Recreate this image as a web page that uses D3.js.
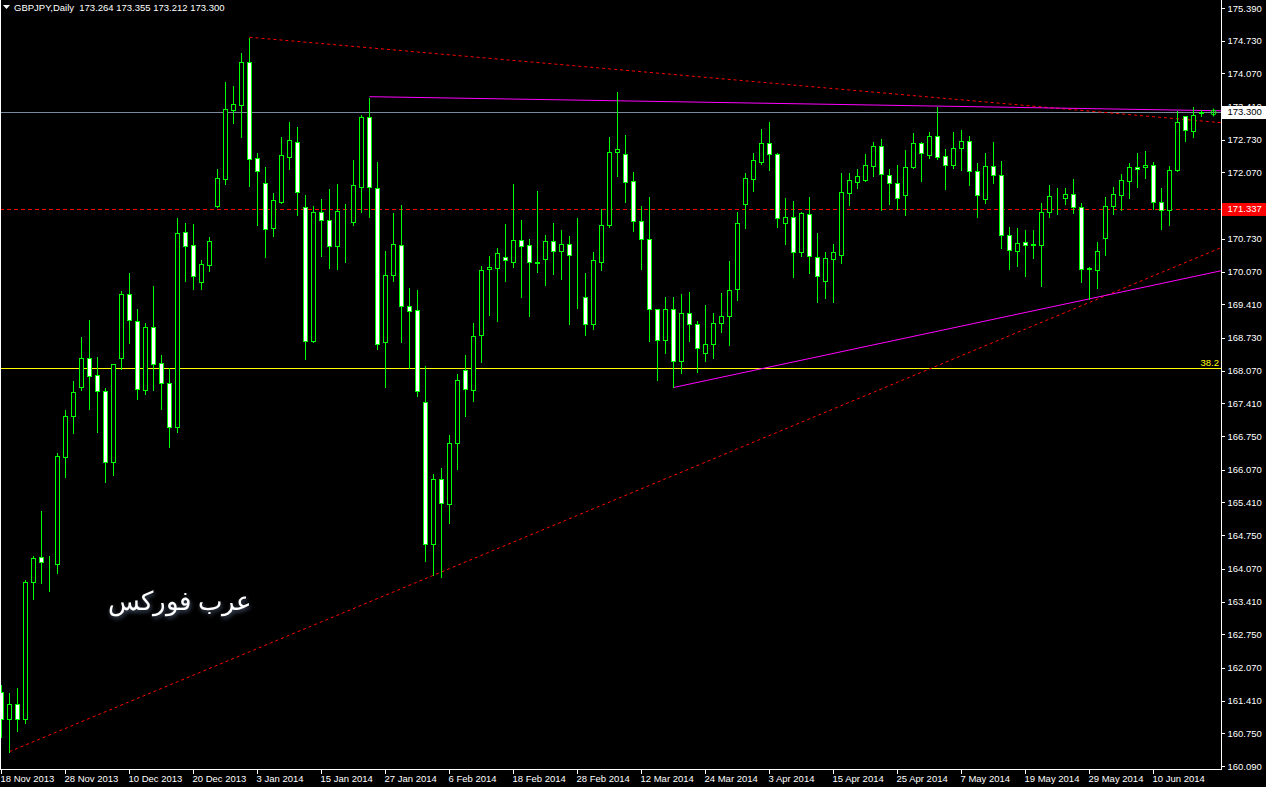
<!DOCTYPE html>
<html><head><meta charset="utf-8">
<script src="https://cdn.jsdelivr.net/npm/d3@7/dist/d3.min.js"></script>
<style>
html,body{margin:0;padding:0;background:#000;}
svg{display:block;}
text{font-family:"Liberation Sans",Arial,sans-serif;}
</style></head>
<body>
<svg id="chart" width="1266" height="787"></svg>
<script>
// ---------- DATA ----------
const symbolTitle = "GBPJPY,Daily";
const lastQuote = ["173.264","173.355","173.212","173.300"];
const firstDay = "2013-11-18";
const holidays = ["2013-12-25","2014-01-01"];
const barCount = 151;

const open = [161.58,161.03,161.35,161.03,163.80,164.30,164.20,164.17,166.33,167.16,
167.73,168.32,167.98,167.65,166.23,168.33,169.61,169.07,167.67,168.96,
168.22,167.83,166.93,170.86,170.60,169.85,170.20,171.40,171.93,173.33,
173.43,174.29,172.36,171.85,170.94,171.48,172.39,172.68,171.37,168.67,
171.27,171.12,170.59,171.08,171.08,171.78,173.18,171.75,168.65,170.01,
170.60,169.37,169.29,167.43,164.58,165.88,165.37,166.60,168.08,167.67,
168.78,170.12,170.15,170.36,170.26,170.70,170.60,170.26,170.33,170.68,
170.48,170.62,170.34,169.55,169.01,170.26,171.00,172.49,172.44,171.89,
171.10,170.72,169.31,168.68,169.31,168.26,169.23,169.01,168.42,168.60,
169.03,169.17,169.71,171.43,171.94,172.29,172.66,172.44,171.06,171.17,
170.46,171.23,170.36,169.87,170.33,170.41,171.66,171.88,171.92,172.21,
172.60,172.01,171.85,171.62,172.19,172.66,172.42,172.80,172.40,172.23,
172.56,172.70,172.09,171.54,172.21,172.01,170.80,170.49,170.66,170.61,
170.60,171.27,171.57,171.56,171.63,171.37,170.13,170.11,170.75,171.39,
171.62,171.90,172.19,172.19,172.23,171.47,171.31,172.11,173.20,172.90,
173.264];
const high = [161.74,161.58,161.68,163.86,164.35,165.26,164.35,166.42,167.29,167.88,
168.77,169.11,168.37,167.73,168.22,169.70,170.06,169.33,169.05,169.80,
168.41,168.14,171.17,171.07,171.05,170.32,170.79,172.16,173.92,173.84,
174.50,174.80,172.48,172.20,171.67,172.81,173.11,173.01,171.64,171.41,
171.55,171.76,171.86,171.45,172.34,173.26,173.60,172.30,170.51,171.27,
171.43,169.76,169.72,168.18,166.00,166.12,166.79,168.02,168.41,169.05,
170.20,170.41,170.57,171.05,171.86,171.13,170.75,171.72,170.83,171.07,
170.92,170.81,171.17,170.06,170.48,171.35,172.81,173.71,172.85,172.10,
171.41,171.60,169.33,169.58,169.58,169.64,169.68,169.09,169.42,169.25,
169.66,170.30,171.29,172.08,172.48,172.97,173.11,172.48,171.57,171.51,
171.29,171.60,170.87,170.48,170.65,172.08,172.08,172.16,172.46,172.71,
172.77,172.16,172.24,172.54,172.89,172.71,172.91,173.41,172.56,172.91,
172.95,172.83,172.28,172.48,172.71,172.32,170.99,170.97,170.93,170.93,
171.47,171.84,171.78,171.78,171.96,171.47,170.18,170.69,171.60,171.79,
172.06,172.28,172.48,172.52,172.30,171.77,172.23,173.33,173.22,173.41,
173.355];
const low = [160.68,160.38,160.80,160.96,163.47,163.79,163.63,163.99,165.93,166.82,
167.67,167.30,166.83,165.82,165.96,168.10,168.63,167.49,167.60,167.67,
167.30,166.53,166.84,169.87,169.72,169.72,170.09,171.38,171.84,173.07,
172.79,171.80,171.02,170.37,170.79,171.46,172.15,171.22,168.31,168.65,
170.39,170.15,170.13,170.27,171.02,171.28,171.18,168.50,167.73,169.87,
168.65,168.12,167.55,164.23,163.94,163.91,165.00,166.09,167.16,167.46,
168.25,169.20,169.08,169.87,170.17,169.56,169.18,170.07,169.80,170.03,
169.91,169.02,169.34,168.78,168.92,170.11,170.96,172.00,171.47,170.89,
170.13,168.67,167.89,168.43,167.73,168.03,168.67,168.05,168.27,168.33,
168.86,168.59,169.50,170.94,171.70,172.25,172.11,170.96,170.63,169.97,
170.39,170.05,169.46,169.54,169.46,170.25,171.41,171.76,171.90,171.99,
171.32,171.44,171.33,171.22,172.17,171.90,172.36,172.34,171.74,172.17,
172.11,171.82,171.18,171.46,171.86,170.55,170.13,170.19,169.99,170.35,
169.78,171.18,171.24,171.43,171.25,169.86,169.52,169.74,170.40,171.24,
171.32,171.56,171.78,171.96,171.33,170.92,171.00,172.09,172.70,172.78,
173.212];
const close = [161.03,161.35,161.03,163.81,164.28,164.20,164.21,166.34,167.15,167.63,
168.32,167.97,167.65,166.23,168.20,169.61,169.09,167.69,168.96,168.20,
167.83,166.93,170.84,170.58,169.99,170.22,170.68,171.95,173.35,173.45,
174.31,172.34,172.09,170.92,171.51,172.42,172.72,171.67,168.67,171.27,
171.12,170.59,171.29,171.07,171.81,173.18,171.77,168.60,170.01,170.62,
169.37,169.27,167.65,164.58,165.88,165.39,166.60,167.89,167.69,168.77,
170.10,170.16,170.44,170.30,170.70,170.58,170.26,170.25,170.68,170.48,
170.62,170.40,170.35,169.01,170.30,171.01,172.48,172.54,171.88,171.10,
170.73,169.31,168.68,169.31,168.26,169.23,169.01,168.52,168.60,169.03,
169.17,169.69,171.06,171.95,172.32,172.66,172.44,171.15,171.17,170.46,
171.25,170.38,169.99,170.34,170.46,171.67,171.91,171.99,172.23,172.60,
172.03,171.85,171.55,172.19,172.66,172.46,172.80,172.38,172.23,172.56,
172.70,172.09,171.61,172.21,172.01,170.80,170.50,170.64,170.61,170.62,
171.27,171.59,171.58,171.63,171.38,170.13,170.14,170.48,171.39,171.63,
171.91,172.19,172.15,172.23,171.47,171.31,172.11,173.08,172.92,173.24,
173.300];

// visible price-scale labels (171.410 is hidden behind the red box in the reference)
const priceTicks = [175.39,174.73,174.07,173.41,172.73,172.07,170.73,170.07,169.41,
168.73,168.07,167.41,166.75,166.07,165.41,164.75,164.07,163.41,162.75,162.07,161.41,160.75,160.09];

// objects on the chart: [barIndex, price] anchors
const redTrendUpper = [[31,174.80],[150,173.11]];
const redTrendLower = [[1,160.38],[54,163.94]];
const magentaUpper = [[46,173.60],[117,173.41]];
const magentaLower = [[84,167.73],[136,169.52]];
const fibLevel = 168.12, fibLabel = "38.2";
const bidPrice = 173.300, bidLabel = "173.300";
const hLinePrice = 171.337, hLineLabel = "171.337";
const watermark = "عرب فوركس";

// ---------- build categories ----------
const parse = d3.timeParse("%Y-%m-%d"), iso = d3.timeFormat("%Y-%m-%d");
const dates = [];
{ let d = parse(firstDay);
  while (dates.length < barCount) {
    const wd = d.getDay();
    if (wd !== 0 && wd !== 6 && !holidays.includes(iso(d))) dates.push(iso(d));
    d = d3.timeDay.offset(d, 1);
  }
}
const bars = dates.map((d,i)=>({date:d,o:open[i],h:high[i],l:low[i],c:close[i]}));

// ---------- scales ----------
const W = 1266, H = 787, plotR = 1221, plotB = 769;
const FS = 9.5;
const x = d3.scaleBand().domain(dates).range([-2.5, 1205.5]).padding(0);
const xc = d => x(d) + x.bandwidth()/2;
const y = d3.scaleLinear().domain([160.09, 175.39]).range([766, 8]);
const py = p => Math.round(y(p)) + 0.5;

const svg = d3.select("#chart");
svg.append("rect").attr("width",W).attr("height",H).attr("fill","#000");
const defs = svg.append("defs");
defs.append("clipPath").attr("id","plot").append("rect").attr("x",0).attr("y",0).attr("width",plotR).attr("height",plotB);
const f = defs.append("filter").attr("id","glow").attr("x","-20%").attr("y","-40%").attr("width","140%").attr("height","180%");
f.append("feDropShadow").attr("dx",1).attr("dy",2).attr("stdDeviation",2).attr("flood-color","#5a6a8a").attr("flood-opacity",0.8);

const g = svg.append("g").attr("clip-path","url(#plot)");

// fibonacci 38.2 level
g.append("line").attr("x1",0).attr("x2",plotR).attr("y1",py(fibLevel)).attr("y2",py(fibLevel))
  .attr("stroke","#ffff00").attr("stroke-width",1).attr("shape-rendering","crispEdges");
svg.append("text").attr("x",1219).attr("y",py(fibLevel)-3).attr("text-anchor","end")
  .attr("fill","#ffff00").attr("font-size",FS).text(fibLabel);

// horizontal red dashed line
g.append("line").attr("x1",0).attr("x2",plotR).attr("y1",py(hLinePrice)).attr("y2",py(hLinePrice))
  .attr("stroke","#ff0000").attr("stroke-dasharray","4,3").attr("shape-rendering","crispEdges");

// bid line
g.append("line").attr("x1",0).attr("x2",plotR).attr("y1",py(bidPrice)).attr("y2",py(bidPrice))
  .attr("stroke","#7a8a9c").attr("shape-rendering","crispEdges");

// trend rays
function ray(anch, color, dash){
  const x1 = xc(dates[anch[0][0]]), y1 = y(anch[0][1]);
  const x2 = xc(dates[anch[1][0]]), y2 = y(anch[1][1]);
  const k = (y2-y1)/(x2-x1);
  const l = g.append("line").attr("x1",x1).attr("y1",y1).attr("x2",plotR).attr("y2",y1+k*(plotR-x1))
    .attr("stroke",color).attr("stroke-width",1);
  if (dash) l.attr("stroke-dasharray",dash);
}
ray(redTrendUpper,"#ff0000","3,3");
ray(redTrendLower,"#ff0000","3,3");
ray(magentaUpper,"#ff00ff",null);
ray(magentaLower,"#ff00ff",null);

// candles
const cg = g.append("g");
cg.selectAll("line.wick").data(bars).join("line").attr("class","wick")
  .attr("x1",d=>xc(d.date)).attr("x2",d=>xc(d.date))
  .attr("y1",d=>py(d.h)).attr("y2",d=>py(d.l)+0.5)
  .attr("stroke","#00ff00").attr("shape-rendering","crispEdges");
cg.selectAll("rect.body").data(bars).join("rect").attr("class","body")
  .attr("x",d=>xc(d.date)-2).attr("width",4)
  .attr("y",d=>py(Math.max(d.o,d.c)))
  .attr("height",d=>py(Math.min(d.o,d.c))-py(Math.max(d.o,d.c)))
  .attr("fill",d=>d.c>=d.o?"#000":"#fff")
  .attr("stroke","#00ff00").attr("stroke-width",1).attr("shape-rendering","crispEdges");

// small marker at the last price
const lastX = xc(dates[barCount-1]) + 12;
g.append("circle").attr("cx",lastX).attr("cy",py(bidPrice)).attr("r",2.5).attr("fill","none").attr("stroke","#00ff00");
g.append("line").attr("x1",lastX).attr("x2",lastX).attr("y1",py(bidPrice)-4).attr("y2",py(bidPrice)+4).attr("stroke","#00ff00");

// watermark
svg.append("text").attr("x",180).attr("y",610).attr("text-anchor","middle")
  .attr("font-family","DejaVu Sans, Noto Sans, sans-serif").attr("font-size",26)
  .attr("fill","#fff").attr("filter","url(#glow)").attr("direction","rtl").text(watermark);

// frame lines
svg.append("line").attr("x1",0.5).attr("x2",0.5).attr("y1",0).attr("y2",plotB+0.5).attr("stroke","#fff").attr("shape-rendering","crispEdges");
svg.append("line").attr("x1",0).attr("x2",plotR+1).attr("y1",plotB+0.5).attr("y2",plotB+0.5).attr("stroke","#fff").attr("shape-rendering","crispEdges");
svg.append("line").attr("x1",plotR+0.5).attr("x2",plotR+0.5).attr("y1",0).attr("y2",plotB+0.5).attr("stroke","#fff").attr("shape-rendering","crispEdges");

// x axis
const fmt = d3.timeFormat("%-d %b %Y");
const xAxis = d3.axisBottom(x).tickValues(dates.filter((d,i)=>i%8===0))
  .tickFormat(d=>fmt(parse(d))).tickSize(4).tickSizeOuter(0);
const ax = svg.append("g").attr("transform",`translate(0,${plotB+0.5})`).call(xAxis);
ax.select(".domain").remove();
ax.selectAll(".tick line").attr("stroke","#fff").attr("shape-rendering","crispEdges");
ax.selectAll(".tick text").attr("fill","#fff").attr("font-size",FS).attr("font-family","Liberation Sans, Arial, sans-serif")
  .attr("text-anchor","start").attr("x",-1).attr("y",6).attr("dy","0.71em");

// y axis
const yAxis = d3.axisRight(y).tickValues(priceTicks).tickFormat(d3.format(".3f")).tickSize(3).tickSizeOuter(0);
const ay = svg.append("g").attr("transform",`translate(${plotR+0.5},0)`).call(yAxis);
ay.select(".domain").remove();
ay.selectAll(".tick line").attr("stroke","#fff").attr("shape-rendering","crispEdges");
ay.selectAll(".tick text").attr("fill","#fff").attr("font-size",FS).attr("font-family","Liberation Sans, Arial, sans-serif").attr("x",6);

// price boxes
function priceBox(p, label, bg, fg){
  const yy = Math.round(y(p));
  svg.append("rect").attr("x",plotR+1).attr("y",yy-6).attr("width",W-plotR-1).attr("height",13).attr("fill",bg);
  svg.append("text").attr("x",plotR+6.5).attr("y",yy).attr("dy","0.35em").attr("font-size",FS).attr("fill",fg).text(label);
}
priceBox(bidPrice, bidLabel, "#fff", "#000");
priceBox(hLinePrice, hLineLabel, "#ff0000", "#fff");

// header
svg.append("path").attr("d","M3,5 L10,5 L6.5,9 Z").attr("fill","#fff");
svg.append("text").attr("x",14).attr("y",11).attr("font-size",FS).attr("fill","#fff")
  .style("white-space","pre").text(symbolTitle + "  " + lastQuote.join(" "));
</script>
</body></html>
